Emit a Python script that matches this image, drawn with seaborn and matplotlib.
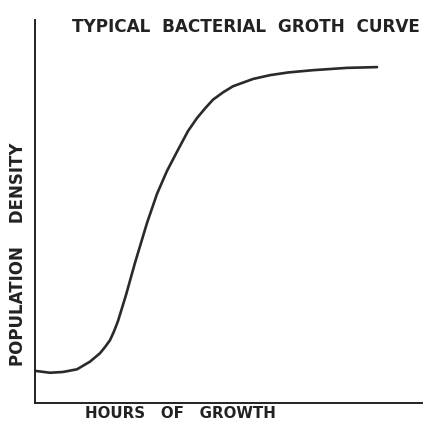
import matplotlib
matplotlib.use("Agg")
import matplotlib.pyplot as plt
import pandas as pd
import seaborn as sns

# Values
hours = [0.0, 0.75, 1.4, 2.1, 2.75, 3.25, 3.5, 3.75, 3.95, 4.15, 4.55, 5.0, 5.6, 6.1,
         6.6, 7.15, 7.65, 8.1, 8.5, 8.9, 9.4, 9.9, 10.9, 11.75, 12.65, 13.9, 15.6, 17.1]
density = [0.84, 0.79, 0.81, 0.88, 1.08, 1.30, 1.46, 1.64, 1.87, 2.14, 2.82, 3.66, 4.70, 5.46,
           6.06, 6.61, 7.10, 7.44, 7.69, 7.92, 8.11, 8.27, 8.46, 8.56, 8.63, 8.69, 8.75, 8.77]

title = "TYPICAL  BACTERIAL  GROTH  CURVE"
x_label = "HOURS   OF   GROWTH"
y_label = "POPULATION    DENSITY"

df = pd.DataFrame({"hours": hours, "density": density})

sns.set_style("white")
plt.rcParams["font.family"] = ["DejaVu Sans"]

fig = plt.figure(figsize=(4.32, 4.25), dpi=100)
ax = fig.add_axes([35 / 432, 1 - 403 / 425, 387 / 432, 383 / 425])

sns.lineplot(data=df, x="hours", y="density", ax=ax, color="#2a2a2a", linewidth=1.9)

ax.set_xlim(0, 19.35)
ax.set_ylim(0, 10)
ax.set_xticks([])
ax.set_yticks([])
ax.set_xlabel("")
ax.set_ylabel("")
for side in ["top", "right"]:
    ax.spines[side].set_visible(False)
for side in ["left", "bottom"]:
    ax.spines[side].set_color("#222222")
    ax.spines[side].set_linewidth(1.4)

fig.text(72 / 432, 1 - 27 / 425, title, fontsize=12.2, fontweight="bold",
         color="#222222", ha="left", va="center")
fig.text(85 / 432, 1 - 414 / 425, x_label, fontsize=10.8, fontweight="bold",
         color="#222222", ha="left", va="center")
fig.text(18 / 432, 1 - 254 / 425, y_label, fontsize=12, fontweight="bold",
         color="#222222", ha="center", va="center", rotation=90)

fig.savefig("out.png", dpi=100, facecolor="white")
